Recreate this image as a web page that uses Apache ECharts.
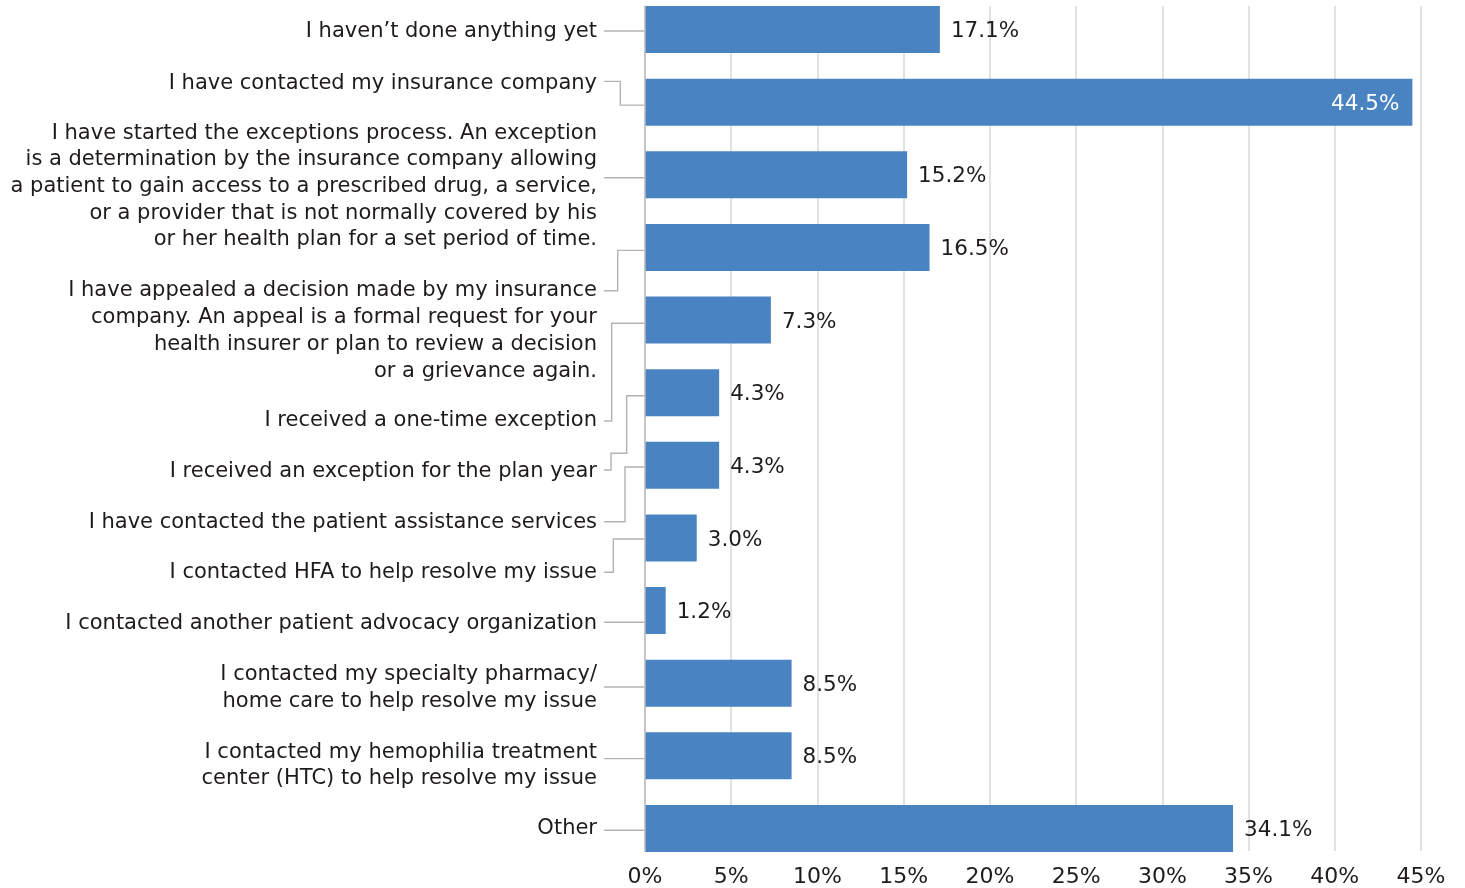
<!DOCTYPE html>
<html>
<head>
<meta charset="utf-8">
<script src="https://cdn.jsdelivr.net/npm/echarts@6/dist/echarts.min.js"></script>
<style>
  html, body { margin: 0; padding: 0; background: #ffffff; }
  #chart { width: 1465px; height: 888px; }
</style>
</head>
<body>
<div id="chart"></div>
<script>
// ---- Data ----
const categories = [
  "I haven\u2019t done anything yet",
  "I have contacted my insurance company",
  "I have started the exceptions process. An exception\nis a determination by the insurance company allowing\na patient to gain access to a prescribed drug, a service,\nor a provider that is not normally covered by his\nor her health plan for a set period of time.",
  "I have appealed a decision made by my insurance\ncompany. An appeal is a formal request for your\nhealth insurer or plan to review a decision\nor a grievance again.",
  "I received a one-time exception",
  "I received an exception for the plan year",
  "I have contacted the patient assistance services",
  "I contacted HFA to help resolve my issue",
  "I contacted another patient advocacy organization",
  "I contacted my specialty pharmacy/\nhome care to help resolve my issue",
  "I contacted my hemophilia treatment\ncenter (HTC) to help resolve my issue",
  "Other"
];
const values = [17.1, 44.5, 15.2, 16.5, 7.3, 4.3, 4.3, 3.0, 1.2, 8.5, 8.5, 34.1];
const xMin = 0, xMax = 45, xStep = 5;

// ---- Layout of category labels and leader lines (offsets from each bar's centre) ----
const labelLayout = [
  { textDy: 2.5,  lineDy: 1.5,   attachDy: 1.5,  bends: [] },
  { textDy: -19,  lineDy: -20.8, attachDy: 3,    bends: [-24.7] },
  { textDy: 11.7, lineDy: 3,     attachDy: 3,    bends: [] },
  { textDy: 83.6, lineDy: 43.3,  attachDy: 3,    bends: [-27.3] },
  { textDy: 101,  lineDy: 101,   attachDy: 3.2,  bends: [-33.3] },
  { textDy: 79.3, lineDy: 77.3,  attachDy: 3,    bends: [-34, 60.6, -18.3] },
  { textDy: 57.7, lineDy: 56.4,  attachDy: 1.7,  bends: [-20] },
  { textDy: 35,   lineDy: 34.3,  attachDy: 1,    bends: [-31.7] },
  { textDy: 13.4, lineDy: 11.7,  attachDy: 11.7, bends: [] },
  { textDy: 4.7,  lineDy: 3.7,   attachDy: 3.7,  bends: [] },
  { textDy: 9.6,  lineDy: 2.8,   attachDy: 2.8,  bends: [] },
  { textDy: 0.5,  lineDy: 1.8,   attachDy: 1.8,  bends: [] }
];

const FONT = '"DejaVu Sans", "Noto Sans", sans-serif';
const TEXT_COLOR = '#1f1b1c';
const BAR_COLOR = '#4a83c2';
const GRID_COLOR = '#d9d9d9';
const LEADER_COLOR = '#b3b3b3';

const chart = echarts.init(document.getElementById('chart'), null, { renderer: 'canvas' });

const option = {
  animation: false,
  backgroundColor: '#ffffff',
  grid: [
    { left: 645, right: 44, top: 29.5, height: 799, containLabel: false },
    { left: 645, right: 44, top: 6, bottom: 36, containLabel: false }
  ],
  xAxis: [
    {
      gridIndex: 0, type: 'value', min: xMin, max: xMax, interval: xStep,
      show: false
    },
    {
      gridIndex: 1, type: 'value', min: xMin, max: xMax, interval: xStep,
      axisLine: { show: false },
      axisTick: { show: false },
      splitLine: { show: true, lineStyle: { color: GRID_COLOR, width: 1.5 } },
      axisLabel: {
        formatter: '{value}%', color: TEXT_COLOR, fontFamily: FONT,
        fontSize: 22, margin: 15
      }
    }
  ],
  yAxis: [
    {
      gridIndex: 0, type: 'category', data: categories, inverse: true,
      boundaryGap: false,
      show: false
    },
    {
      gridIndex: 1, type: 'category', data: [''], z: 5,
      axisLine: { show: true, lineStyle: { color: '#bdbdbd', width: 1.5 } },
      axisTick: { show: false },
      axisLabel: { show: false },
      splitLine: { show: false }
    }
  ],
  series: [
    {
      type: 'bar',
      xAxisIndex: 0, yAxisIndex: 0,
      clip: false,
      data: values.map(function (v, i) {
        const inside = v > 40;
        return {
          value: v,
          label: inside ? {
            position: 'insideRight', distance: 13, color: '#ffffff'
          } : {
            position: 'right', distance: 11, color: TEXT_COLOR
          }
        };
      }),
      barWidth: 47,
      itemStyle: { color: BAR_COLOR },
      label: {
        show: true,
        fontFamily: FONT,
        fontSize: 21.5,
        offset: [0, 2],
        formatter: function (p) { return p.value.toFixed(1) + '%'; }
      },
      z: 2
    },
    {
      type: 'custom',
      xAxisIndex: 0, yAxisIndex: 0,
      clip: false,
      silent: true,
      data: categories.map(function (c, i) { return [0, i]; }),
      renderItem: function (params, api) {
        const idx = params.dataIndex;
        const p = api.coord([0, idx]);
        const ax = p[0], cy = p[1];
        const L = labelLayout[idx];
        const pts = [[ax - 41, cy + L.lineDy]];
        let curY = L.lineDy;
        for (let j = 0; j < L.bends.length; j += 2) {
          const bx = L.bends[j];
          const ny = (j + 1 < L.bends.length) ? L.bends[j + 1] : L.attachDy;
          pts.push([ax + bx, cy + curY]);
          pts.push([ax + bx, cy + ny]);
          curY = ny;
        }
        pts.push([ax, cy + L.attachDy]);
        return {
          type: 'group',
          children: [
            {
              type: 'polyline',
              shape: { points: pts },
              style: { stroke: LEADER_COLOR, lineWidth: 1.4, fill: null }
            },
            {
              type: 'text',
              style: {
                text: categories[idx],
                x: ax - 48,
                y: cy + L.textDy,
                align: 'right',
                verticalAlign: 'middle',
                fontFamily: FONT,
                fontSize: 21,
                lineHeight: 26.7,
                fill: TEXT_COLOR
              }
            }
          ]
        };
      },
      z: 3
    }
  ]
};

chart.setOption(option);
</script>
</body>
</html>
